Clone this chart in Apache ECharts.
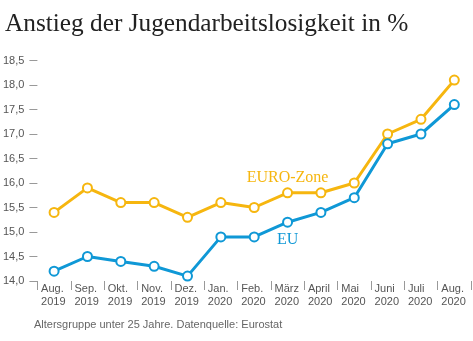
<!DOCTYPE html>
<html>
<head>
<meta charset="utf-8">
<script src="https://cdn.jsdelivr.net/npm/echarts@6/dist/echarts.min.js"></script>
<style>
  html, body { margin: 0; padding: 0; background: #fff; }
  #chart { width: 473px; height: 341px; }
</style>
</head>
<body>
<div id="chart"></div>
<script>
// Monthly youth unemployment rate (%), Aug 2019 – Aug 2020
const months = ['Aug.', 'Sep.', 'Okt.', 'Nov.', 'Dez.', 'Jan.', 'Feb.', 'März', 'April', 'Mai', 'Juni', 'Juli', 'Aug.'];
const years = ['2019', '2019', '2019', '2019', '2019', '2020', '2020', '2020', '2020', '2020', '2020', '2020', '2020'];
const euroZone = [15.4, 15.9, 15.6, 15.6, 15.3, 15.6, 15.5, 15.8, 15.8, 16.0, 17.0, 17.3, 18.1];
const eu = [14.2, 14.5, 14.4, 14.3, 14.1, 14.9, 14.9, 15.2, 15.4, 15.7, 16.8, 17.0, 17.6];
const yMin = 14.0, yMax = 18.5, yStep = 0.5;

const categories = months.map((m, i) => m + '\n' + years[i]);

const YELLOW = '#f6b60f';
const BLUE = '#0f98d6';
const serif = '"Liberation Serif", "DejaVu Serif", serif';
const sans = '"Liberation Sans", Arial, sans-serif';

function lineSeries(name, data, color, tagText, tagValue) {
  return {
    name: name,
    type: 'line',
    data: data,
    symbol: 'circle',
    symbolSize: 9,
    showAllSymbol: true,
    lineStyle: { color: color, width: 3 },
    itemStyle: { color: '#fff', borderColor: color, borderWidth: 2 },
    z: 3,
    markPoint: {
      symbol: 'circle',
      symbolSize: 0,
      silent: true,
      data: [{ coord: [7, tagValue], value: tagText }],
      label: {
        show: true,
        position: 'inside',
        formatter: tagText,
        color: color,
        fontFamily: serif,
        fontSize: 16
      }
    }
  };
}

const chart = echarts.init(document.getElementById('chart'), null, { renderer: 'canvas' });
chart.setOption({
  animation: false,
  backgroundColor: '#fff',
  title: {
    text: 'Anstieg der Jugendarbeitslosigkeit in %',
    left: 0,
    top: 7,
    textStyle: { fontFamily: serif, fontSize: 25.3, fontWeight: 'normal', color: '#222' }
  },
  graphic: [{
    type: 'text',
    left: 34,
    top: 319,
    style: {
      text: 'Altersgruppe unter 25 Jahre. Datenquelle: Eurostat',
      font: '11px ' + sans,
      fill: '#666'
    }
  }],
  grid: { left: 34, right: 2, top: 60.5, bottom: 60 },
  xAxis: {
    type: 'category',
    data: categories,
    boundaryGap: true,
    axisLine: { show: false },
    axisTick: { show: true, length: 9, lineStyle: { color: '#999', width: 1 } },
    axisLabel: {
      interval: 0,
      margin: 1,
      align: 'left',
      verticalAlign: 'top',
      padding: [0, 0, 0, -13],
      lineHeight: 13,
      fontSize: 11,
      fontFamily: sans,
      color: '#555'
    },
    splitLine: { show: false }
  },
  yAxis: {
    type: 'value',
    min: yMin,
    max: yMax,
    interval: yStep,
    axisLine: { show: false },
    axisTick: { show: true, length: 8, lineStyle: { color: '#999', width: 1 } },
    axisLabel: {
      margin: 13,
      padding: [0, 0, 7, 0],
      fontSize: 11,
      fontFamily: sans,
      color: '#555',
      formatter: v => v.toFixed(1).replace('.', ',')
    },
    splitLine: { show: false }
  },
  series: [
    lineSeries('EURO-Zone', euroZone, YELLOW, 'EURO-Zone', 16.1),
    lineSeries('EU', eu, BLUE, 'EU', 14.84)
  ]
});
</script>
</body>
</html>
